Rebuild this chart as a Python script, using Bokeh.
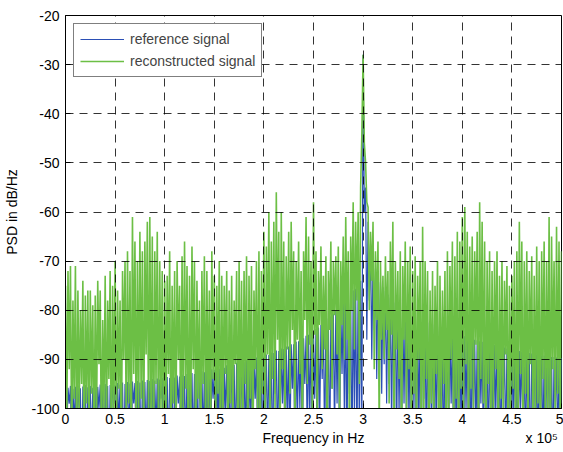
import numpy as np
from bokeh.plotting import figure
from bokeh.models import Legend, LegendItem, FixedTicker, LinearAxis
from bokeh.embed import file_html
from bokeh.resources import INLINE

# ---------------- data ----------------
# sample grid: alternating local maxima (every 2.5 kHz) and minima in between
step_hz = 1250
x_ticks = [0, 50000, 100000, 150000, 200000, 250000, 300000, 350000, 400000, 450000, 500000]
x_tick_labels = ["0", "0.5", "1", "1.5", "2", "2.5", "3", "3.5", "4", "4.5", "5"]
y_ticks = [-100, -90, -80, -70, -60, -50, -40, -30, -20]
y_tick_labels = ["-100", "-90", "-80", "-70", "-60", "-50", "-40", "-30", "-20"]

# reconstructed signal: local peaks (dB/Hz) at 0, 2.5k, 5k ... 500k Hz
green_peaks = [
    -75, -72, -71, -78, -71, -76, -80, -74, -77, -76,
    -76, -79, -77, -74, -76, -82, -73, -78, -72, -75,
    -70, -76, -78, -72, -70, -68, -72, -61, -66, -70,
    -64, -68, -66, -62, -61, -65, -68, -64, -70, -72,
    -74, -73, -68, -75, -72, -70, -75, -69, -66, -71,
    -73, -67, -70, -74, -78, -72, -69, -72, -76, -68,
    -73, -75, -70, -73, -75, -72, -76, -73, -78, -72,
    -70, -74, -72, -69, -73, -71, -76, -70, -68, -72,
    -64, -67, -60, -66, -62, -56, -64, -60, -66, -69,
    -64, -62, -68, -70, -66, -72, -68, -61, -65, -70,
    -58, -68, -72, -67, -73, -69, -72, -66, -70, -69,
    -67, -70, -65, -61, -68, -65, -58, -62, -60, -55,
    -28, -50, -59, -64, -62, -68, -66, -70, -73, -69,
    -72, -66, -62, -70, -72, -68, -71, -66, -70, -67,
    -72, -69, -73, -70, -63, -70, -72, -76, -72, -75,
    -70, -73, -76, -72, -68, -71, -66, -69, -64, -66,
    -61, -59, -64, -67, -65, -68, -64, -58, -62, -66,
    -70, -68, -72, -70, -68, -73, -70, -74, -71, -75,
    -73, -70, -68, -62, -66, -70, -68, -72, -69, -73,
    -67, -70, -68, -66, -70, -61, -65, -70, -63, -66,
    -68,
]
# reconstructed signal: local minima between the peaks
green_troughs = [
    -104, -92, -108, -98, -110, -101, -95, -112, -99, -106,
    -97, -109, -103, -91, -111, -100, -107, -94, -113, -102,
    -108, -96, -112, -90, -105, -99, -110, -93, -107, -101,
    -98, -111, -89, -106, -102, -114, -95, -108, -100, -110,
    -103, -93, -112, -99, -107, -90, -109, -101, -96, -111,
    -104, -92, -110, -98, -113, -95, -106, -100, -109, -94,
    -108, -97, -111, -102, -93, -110, -99, -106, -91, -112,
    -101, -107, -95, -109, -98, -113, -92, -104, -110, -97,
    -105, -89, -108, -94, -100, -86, -110, -92, -103, -88,
    -97, -84, -106, -86, -93, -108, -82, -95, -87, -101,
    -85, -104, -83, -92, -88, -110, -84, -96, -81, -89,
    -102, -83, -90, -86, -107, -80, -88, -78, -95, -44,
    -46, -58, -80, -74, -92, -82, -105, -86, -90, -84,
    -99, -85, -108, -88, -94, -110, -86, -100, -92, -111,
    -97, -108, -90, -112, -101, -94, -110, -99, -106, -93,
    -111, -100, -95, -109, -103, -90, -107, -98, -113, -96,
    -104, -91, -110, -96, -100, -87, -108, -94, -99, -112,
    -95, -106, -101, -92, -110, -98, -104, -89, -111, -100,
    -96, -109, -103, -93, -112, -97, -105, -91, -108, -102,
    -99, -110, -94, -106, -101, -113, -92, -104, -97, -108,
]
# reference signal: local peaks
blue_peaks = [
    -95.5, -95.8, -95.4, -96.0, -95.6, -95.3, -95.9, -95.5, -95.2, -95.7,
    -95.4, -95.8, -95.3, -95.6, -95.1, -95.5, -95.0, -95.4, -95.2, -94.9,
    -95.2, -94.8, -95.1, -94.7, -95.0, -94.6, -94.9, -94.5, -94.8, -94.4,
    -94.7, -94.3, -94.6, -94.2, -94.4, -94.0, -94.3, -93.9, -94.1, -93.8,
    -94.0, -93.6, -93.8, -93.4, -93.7, -93.3, -93.5, -93.1, -93.4, -93.0,
    -93.2, -92.8, -93.0, -92.6, -92.8, -92.4, -92.6, -92.2, -92.4, -92.0,
    -92.1, -91.8, -91.9, -91.5, -91.7, -91.2, -91.4, -91.0, -91.1, -90.7,
    -90.9, -90.5, -90.6, -90.2, -90.3, -89.9, -90.0, -89.6, -89.7, -89.3,
    -89.4, -89.0, -89.1, -88.6, -88.7, -88.2, -88.3, -87.8, -87.9, -87.4,
    -87.4, -86.9, -86.9, -86.4, -86.3, -85.8, -85.7, -85.2, -85.0, -84.5,
    -84.3, -83.8, -83.5, -83.0, -82.6, -82.1, -81.7, -81.2, -80.7, -80.1,
    -79.6, -79.0, -78.4, -77.7, -77.0, -76.6, -76.0, -75.6, -75.2, -74.0,
    -28.0, -55.0, -62.0, -66.5, -69.5, -71.5, -73.0, -74.3, -75.3, -76.1,
    -76.8, -77.4, -77.9, -78.4, -78.8, -79.2, -79.6, -79.9, -80.3, -80.6,
    -80.9, -81.2, -81.5, -81.7, -82.0, -82.2, -82.5, -82.7, -82.9, -83.1,
    -83.3, -83.5, -83.7, -83.9, -84.1, -84.3, -84.5, -84.7, -84.8, -85.0,
    -85.2, -85.3, -85.5, -85.7, -85.8, -86.0, -86.1, -86.3, -86.4, -86.6,
    -86.7, -86.9, -87.0, -87.1, -87.3, -87.4, -87.5, -87.6, -87.8, -87.9,
    -88.0, -88.1, -88.2, -88.3, -88.4, -88.5, -88.6, -88.7, -88.8, -88.9,
    -89.0, -89.1, -89.2, -89.2, -89.3, -89.4, -89.5, -89.5, -89.6, -89.7,
    -89.7,
]
# reference signal: local minima
blue_troughs = [
    -106, -99, -112, -103, -108, -100, -115, -104, -110, -98,
    -109, -105, -113, -100, -107, -111, -102, -116, -104, -99,
    -110, -103, -108, -114, -101, -106, -112, -99, -109, -104,
    -115, -102, -107, -111, -100, -113, -105, -109, -98, -112,
    -104, -110, -101, -114, -106, -99, -111, -103, -108, -115,
    -102, -109, -105, -112, -100, -107, -113, -104, -110, -98,
    -111, -103, -108, -115, -101, -106, -112, -99, -109, -104,
    -113, -100, -107, -111, -103, -114, -98, -109, -105, -112,
    -101, -108, -104, -113, -97, -110, -106, -99, -112, -103,
    -109, -96, -111, -104, -100, -114, -95, -107, -102, -110,
    -98, -112, -103, -94, -109, -101, -113, -96, -106, -99,
    -111, -93, -104, -108, -97, -114, -101, -109, -105, -104,
    -60, -86, -78, -90, -84, -94, -88, -97, -91, -99,
    -95, -104, -98, -108, -101, -112, -99, -106, -103, -110,
    -100, -114, -104, -108, -98, -111, -106, -102, -113, -107,
    -101, -109, -115, -103, -107, -99, -112, -105, -110, -104,
    -113, -100, -108, -111, -102, -106, -114, -99, -109, -104,
    -110, -103, -115, -101, -107, -112, -98, -109, -105, -111,
    -102, -108, -113, -100, -106, -110, -104, -115, -99, -107,
    -111, -103, -109, -114, -101, -106, -112, -100, -108, -104,
]

# ---------------- assemble series ----------------
def interleave(peaks, troughs):
    out = np.empty(len(peaks) + len(troughs))
    out[0::2] = peaks
    out[1::2] = troughs
    return out

green = interleave(green_peaks, green_troughs)
blue = interleave(blue_peaks, blue_troughs)
freq = np.arange(len(green)) * step_hz

FONT = "Liberation Sans"

p = figure(width=563, height=452, output_backend="svg", toolbar_location=None,
           x_range=(0, 500000), y_range=(-100, -20))
p.min_border_left = 65
p.min_border_right = 2
p.min_border_top = 15
p.min_border_bottom = 44
p.background_fill_color = "white"
p.border_fill_color = "white"
p.outline_line_color = "black"
p.outline_line_width = 1

r_blue = p.line(freq, blue, line_color="#2b4fb5", line_width=1.2)
r_green = p.line(freq, green, line_color="#6cbf45", line_width=1.6)

p.xaxis.ticker = FixedTicker(ticks=x_ticks)
p.xaxis.major_label_overrides = {t: l for t, l in zip(x_ticks, x_tick_labels)}
p.yaxis.ticker = FixedTicker(ticks=y_ticks)
p.yaxis.major_label_overrides = {t: l for t, l in zip(y_ticks, y_tick_labels)}

for ax in (p.xaxis[0], p.yaxis[0]):
    ax.major_tick_in = 5
    ax.major_tick_out = 0
    ax.minor_tick_line_color = None
    ax.axis_line_color = "black"
    ax.major_tick_line_color = "black"
    ax.major_label_text_font = FONT
    ax.major_label_text_font_size = "14px"
    ax.major_label_text_color = "black"
    ax.axis_label_text_font = FONT
    ax.axis_label_text_font_size = "14px"
    ax.axis_label_text_font_style = "normal"
    ax.axis_label_text_color = "black"

p.yaxis.axis_label = "PSD in dB/Hz"
p.xaxis.major_label_standoff = 5
p.yaxis.major_label_standoff = 6
p.yaxis.axis_label_standoff = 8

# second row under the x axis: axis title and the x 10^5 multiplier on one line
x_title_row = LinearAxis(
    ticker=FixedTicker(ticks=[250000, 480000]),
    major_label_overrides={250000: "Frequency in Hz", 480000: "x 10\u2075"},
    axis_line_color=None, major_tick_line_color=None, minor_tick_line_color=None,
    major_tick_in=0, major_tick_out=0, major_label_standoff=3,
    major_label_text_font=FONT, major_label_text_font_size="14px",
    major_label_text_color="black",
)
p.add_layout(x_title_row, "below")

for g in (p.xgrid[0], p.ygrid[0]):
    g.grid_line_color = "black"
    g.grid_line_alpha = 0.8
    g.grid_line_dash = "8 6"
    g.grid_line_width = 1
    g.level = "guide"

legend = Legend(items=[LegendItem(label="reference signal", renderers=[r_blue]),
                       LegendItem(label="reconstructed signal", renderers=[r_green])],
                location="top_left")
legend.margin = 8
legend.padding = 6
legend.spacing = 4
legend.label_height = 18
legend.glyph_width = 44
legend.glyph_height = 18
legend.label_standoff = 6
legend.label_text_font = FONT
legend.label_text_font_size = "14px"
legend.border_line_color = "black"
legend.border_line_width = 1
legend.background_fill_color = "white"
legend.background_fill_alpha = 1
p.add_layout(legend)

open("out.html", "w").write(file_html(p, INLINE))
